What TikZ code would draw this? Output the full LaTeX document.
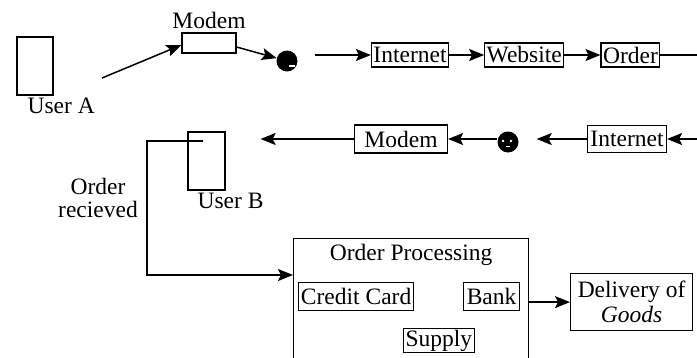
\documentclass[tikz,border=0pt]{standalone}
\usepackage{fontspec}
\setmainfont{Liberation Serif}
\usetikzlibrary{positioning,arrows.meta,calc}

\begin{document}
\begin{tikzpicture}[
    x=1pt, y=-1pt,
    every node/.style={font=\fontsize{23.5}{20}\selectfont},
    box/.style={draw, line width=1.2pt, inner xsep=2pt, inner ysep=0pt, minimum height=24pt},
    userbox/.style={draw, line width=1.2pt, minimum width=36pt, minimum height=58pt, inner sep=0pt},
    globe/.style={circle, fill=black, inner sep=0pt, minimum size=21pt},
    tag/.style={inner sep=0pt},
    arrow/.style={-{Stealth[length=15pt, width=12pt, inset=3pt]}, line width=1.5pt},
    link/.style={line width=1.5pt},
    node distance=35pt
]
    \useasboundingbox (0,0) rectangle (697,357);

    % sending side
    \node[userbox] (userA) at (35,66) {};
    \node[tag, anchor=north west] (labA) at ($(userA.south west)+(11,2)$) {User A};
    \node[box, minimum width=54pt, minimum height=20pt] (modemA) at (209,43) {};
    \node[tag, above=3pt of modemA] (modemLab) {Modem};
    \node[globe] (globeA) at (287,61) {};
    \fill[white] ($(globeA)+(2,4)$) rectangle ++(6,1.5);
    \node[box] (netA) at (410,55) {Internet};
    \node[box, right=35pt of netA] (webA) {Website};
    \node[box, right=36pt of webA] (orderA) {Order};
    \coordinate (edgeA) at (697,55);

    % receiving side
    \coordinate (edgeB) at (697,139);
    \node[box, minimum width=79pt, minimum height=27pt] (netB) at (627,139) {Internet};
    \node[globe] (globeB) at (508,142) {};
    \fill[white] ($(globeB)+(-5,-1)$) circle (1.3) ($(globeB)+(3,-1)$) circle (1.3);
    \fill[white] ($(globeB)+(-2,4)$) rectangle ++(4,1.3);
    \node[box, minimum width=93pt, minimum height=28pt] (modemB) at (401,139) {Modem};
    \node[userbox, minimum width=37pt] (userB) at (206.5,161) {};
    \node[tag, anchor=north west] (labB) at ($(userB.south west)+(10,2)$) {User B};
    \coordinate (ubIn) at (203,141);
    \coordinate (turnB) at (147,275);
    \node[tag, align=center, font=\fontsize{23.5}{23}\selectfont] (recvLab) at (98,198) {Order\\recieved};

    % order processing
    \node[draw, line width=1.2pt, inner sep=0pt, minimum width=235pt, minimum height=127pt, anchor=north west] (procBox) at (293,238) {};
    \node[tag, below=6pt of procBox.north] (procTitle) {Order Processing};
    \node[box, minimum width=115pt, minimum height=28pt, anchor=north west] (credit) at (298,282) {Credit Card};
    \node[box, minimum width=56pt, minimum height=28pt, anchor=north west] (bank) at (463,282) {Bank};
    \node[box, minimum width=70pt, anchor=north west] (supply) at (403,328) {Supply};
    \node[box, align=center, minimum width=122pt, minimum height=57pt, anchor=north west,
          font=\fontsize{23.5}{25}\selectfont] (delivery) at (570,273) {Delivery of\\\textit{Goods}};

    \draw[arrow] (102,78) -- ($(modemA.west)+(0,2)$);
    \draw[arrow] ($(modemA.east)+(0,4)$) -- (globeA);
    \draw[arrow, shorten <=17pt] (globeA.east |- netA.west) -- (netA.west);
    \draw[arrow] (netA) -- (webA);
    \draw[arrow] (webA) -- (orderA);
    \draw[link] (orderA) -- (edgeA);

    \draw[arrow] (edgeB) -- (netB);
    \draw[arrow, shorten >=18pt] (netB.west) -- (globeB.east |- netB.west);
    \draw[arrow] (globeB.west |- modemB.east) -- (modemB.east);
    \draw[arrow, shorten >=35pt] (modemB.west) -- (userB.east |- modemB.west);
    \draw[arrow] (ubIn) -| (turnB) -- (turnB -| procBox.west);
    \draw[arrow] (delivery.west -| procBox.east) -- (delivery.west);
\end{tikzpicture}
\end{document}
